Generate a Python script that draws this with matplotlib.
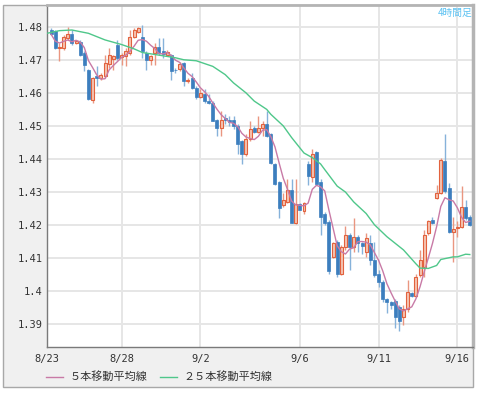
import numpy as np
import pandas as pd
import matplotlib
matplotlib.use('Agg')
import matplotlib.pyplot as plt
from matplotlib.patches import Rectangle
from matplotlib.lines import Line2D

# 4-hour candles, bar index 0..101
opens = [1.4790, 1.4787, 1.4735, 1.4735, 1.4765, 1.4777, 1.4752, 1.4755, 1.4720, 1.4670,
         1.4578, 1.4652, 1.4645, 1.4650, 1.4688, 1.4703, 1.4745, 1.4708, 1.4710, 1.4720,
         1.4770, 1.4785, 1.4770, 1.4720, 1.4700, 1.4720, 1.4740, 1.4725, 1.4715, 1.4715,
         1.4670, 1.4672, 1.4690, 1.4635, 1.4645, 1.4615, 1.4587, 1.4595, 1.4575, 1.4570,
         1.4517, 1.4495, 1.4525, 1.4517, 1.4517, 1.4500, 1.4455, 1.4415, 1.4460, 1.4493,
         1.4483, 1.4495, 1.4505, 1.4475, 1.4385, 1.4330, 1.4260, 1.4270, 1.4305, 1.4205,
         1.4265, 1.4243, 1.4385, 1.4345, 1.4420, 1.4330, 1.4235, 1.4210, 1.4104, 1.4150,
         1.4053, 1.4135, 1.4170, 1.4135, 1.4165, 1.4145, 1.4119, 1.4145, 1.4094, 1.4053,
         1.4028, 1.3977, 1.3967, 1.3972, 1.3952, 1.3921, 1.3947, 1.3996, 1.3987, 1.4048,
         1.4074, 1.4175, 1.4216, 1.4282, 1.4297, 1.4393, 1.4312, 1.4180, 1.4190, 1.4195,
         1.4254, 1.4226]
highs = [1.4795, 1.4790, 1.4750, 1.4775, 1.4800, 1.4790, 1.4760, 1.4760, 1.4725, 1.4672,
         1.4648, 1.4680, 1.4660, 1.4715, 1.4735, 1.4715, 1.4760, 1.4720, 1.4735, 1.4790,
         1.4795, 1.4800, 1.4805, 1.4725, 1.4715, 1.4750, 1.4765, 1.4765, 1.4730, 1.4718,
         1.4675, 1.4692, 1.4692, 1.4645, 1.4660, 1.4620, 1.4612, 1.4612, 1.4595, 1.4575,
         1.4520, 1.4545, 1.4535, 1.4530, 1.4530, 1.4505, 1.4457, 1.4475, 1.4515, 1.4500,
         1.4530, 1.4515, 1.4545, 1.4478, 1.4388, 1.4332, 1.4297, 1.4340, 1.4340, 1.4340,
         1.4268, 1.4270, 1.4395, 1.4430, 1.4425, 1.4340, 1.4240, 1.4215, 1.4150, 1.4155,
         1.4140, 1.4197, 1.4175, 1.4221, 1.4170, 1.4150, 1.4175, 1.4170, 1.4150, 1.4064,
         1.4033, 1.3980, 1.3972, 1.3977, 1.3957, 1.3957, 1.4033, 1.3999, 1.4051, 1.4124,
         1.4185, 1.4216, 1.4226, 1.4322, 1.4404, 1.4475, 1.4327, 1.4226, 1.4211, 1.4317,
         1.4277, 1.4231]
lows = [1.4775, 1.4733, 1.4695, 1.4730, 1.4760, 1.4745, 1.4748, 1.4710, 1.4665, 1.4578,
        1.4570, 1.4620, 1.4640, 1.4645, 1.4675, 1.4670, 1.4700, 1.4685, 1.4680, 1.4715,
        1.4765, 1.4780, 1.4705, 1.4670, 1.4685, 1.4685, 1.4715, 1.4705, 1.4710, 1.4640,
        1.4660, 1.4665, 1.4620, 1.4630, 1.4612, 1.4580, 1.4585, 1.4570, 1.4565, 1.4515,
        1.4470, 1.4470, 1.4505, 1.4500, 1.4490, 1.4415, 1.4385, 1.4410, 1.4455, 1.4480,
        1.4478, 1.4470, 1.4467, 1.4385, 1.4322, 1.4223, 1.4255, 1.4268, 1.4205, 1.4203,
        1.4245, 1.4235, 1.4320, 1.4330, 1.4320, 1.4170, 1.4200, 1.4053, 1.4100, 1.4043,
        1.4050, 1.4124, 1.4064, 1.4119, 1.4119, 1.4114, 1.4104, 1.4079, 1.4043, 1.4013,
        1.3967, 1.3934, 1.3947, 1.3889, 1.3879, 1.3899, 1.3937, 1.3984, 1.3984, 1.4043,
        1.4043, 1.4170, 1.4204, 1.4280, 1.4295, 1.4297, 1.4175, 1.4089, 1.4163, 1.4190,
        1.4216, 1.4196]
closes = [1.4777, 1.4735, 1.4740, 1.4770, 1.4777, 1.4750, 1.4757, 1.4715, 1.4685, 1.4580,
          1.4645, 1.4645, 1.4653, 1.4690, 1.4715, 1.4710, 1.4705, 1.4715, 1.4725, 1.4770,
          1.4790, 1.4795, 1.4725, 1.4700, 1.4710, 1.4740, 1.4720, 1.4718, 1.4722, 1.4665,
          1.4668, 1.4688, 1.4635, 1.4640, 1.4615, 1.4587, 1.4600, 1.4575, 1.4570, 1.4515,
          1.4493, 1.4517, 1.4517, 1.4512, 1.4500, 1.4445, 1.4415, 1.4460, 1.4490, 1.4483,
          1.4495, 1.4507, 1.4468, 1.4387, 1.4325, 1.4253, 1.4275, 1.4305, 1.4207, 1.4265,
          1.4247, 1.4267, 1.4347, 1.4415, 1.4325, 1.4225, 1.4205, 1.4060, 1.4145, 1.4053,
          1.4135, 1.4170, 1.4135, 1.4165, 1.4145, 1.4137, 1.4160, 1.4094, 1.4048, 1.4028,
          1.3977, 1.3967, 1.3957, 1.3921, 1.3911, 1.3947, 1.3998, 1.3987, 1.4043, 1.4094,
          1.4170, 1.4211, 1.4206, 1.4297, 1.4398, 1.4302, 1.4180, 1.4187, 1.4195, 1.4256,
          1.4221, 1.4201]

# 25-bar moving average
ma25_idx = [-1, 2, 5, 9, 11, 13, 17, 20, 22, 25, 27, 30, 32, 35, 39, 42, 44, 47, 49, 52,
            53, 56, 58, 61, 63, 65, 66, 69, 71, 73, 76, 78, 81, 83, 85, 88, 89, 91, 93, 94,
            97, 98, 100, 101]
ma25_val = [1.4780, 1.4788, 1.4790, 1.4780, 1.4770, 1.4760, 1.4746, 1.4733, 1.4722, 1.4716,
            1.4712, 1.4706, 1.4700, 1.4697, 1.4680, 1.4655, 1.4630, 1.4600, 1.4575, 1.4550,
            1.4535, 1.4500, 1.4465, 1.4418, 1.4404, 1.4385, 1.4368, 1.4318, 1.4300, 1.4270,
            1.4235, 1.4201, 1.4165, 1.4145, 1.4125, 1.4083, 1.4070, 1.4069, 1.4078, 1.4096,
            1.4104, 1.4104, 1.4112, 1.4111]

tick_pos = [-1, 17, 36, 60, 79, 98]
tick_labels = ['8/23', '8/28', '9/2', '9/6', '9/11', '9/16']
ytick_vals = [1.39, 1.40, 1.41, 1.42, 1.43, 1.44, 1.45, 1.46, 1.47, 1.48]
ytick_labels = ['1.39', '1.4', '1.41', '1.42', '1.43', '1.44', '1.45', '1.46', '1.47', '1.48']


def main():
    o = np.array(opens)
    h = np.array(highs)
    l = np.array(lows)
    c = np.array(closes)
    x = np.arange(len(c))
    ma5 = pd.Series(c).rolling(5, min_periods=1).mean()

    fig = plt.figure(figsize=(4.78, 3.93), dpi=100, facecolor='white')
    # grey outer frame
    fig.add_artist(Rectangle((3/478, 6/393), 470/478, 382/393, transform=fig.transFigure,
                             facecolor='#f0f0f0', edgecolor='#a8a8a8', lw=1, zorder=0))
    ax = fig.add_axes([47/478, 46/393, 425.7/478, 342/393])
    ax.set_facecolor('white')
    ax.set_zorder(1)

    up = c >= o
    down = ~up
    ax.vlines(x[down], l[down], h[down], color='#86b2da', lw=1, zorder=2)
    ax.vlines(x[up], l[up], h[up], color='#ea9680', lw=1, zorder=2)
    w = 0.72
    ax.bar(x[down], np.maximum(o[down] - c[down], 0.00012), bottom=c[down], width=w,
           color='#3c7ebe', edgecolor='#3c7ebe', lw=0.5, zorder=3)
    ax.bar(x[up], np.maximum(c[up] - o[up], 0.00012), bottom=o[up], width=w,
           color='#f6c4b2', edgecolor='#e2623e', lw=0.8, zorder=3)

    ax.plot(x, ma5, color='#c87aa6', lw=1, zorder=4)
    ax.plot(ma25_idx, ma25_val, color='#4fc78a', lw=1, zorder=4)

    ax.set_xlim(-1, 101.7)
    ax.set_ylim(1.38314, 1.48656)
    ax.set_xticks(tick_pos)
    ax.set_xticklabels(tick_labels)
    ax.set_yticks(ytick_vals)
    ax.set_yticklabels(ytick_labels)
    ax.tick_params(length=0, labelsize=7.5, colors='#333333', pad=3)
    for lab in ax.get_xticklabels() + ax.get_yticklabels():
        lab.set_family('DejaVu Sans Mono')
    ax.tick_params(axis='x', pad=5)
    ax.grid(True, color='#e6e6e6', lw=1.4, zorder=0)
    ax.set_axisbelow(True)

    ax.spines['left'].set_color('#7a7a7a')
    ax.spines['bottom'].set_color('#7a7a7a')
    ax.spines['left'].set_linewidth(1)
    ax.spines['bottom'].set_linewidth(1)
    ax.spines['top'].set_color('#b4b4b4')
    ax.spines['right'].set_color('#b4b4b4')
    ax.spines['top'].set_linewidth(2)
    ax.spines['right'].set_linewidth(2.5)

    fig.text(472/478, (393 - 12.5)/393, '4時間足', ha='right', va='center', fontsize=7,
             color='#5cc2f2', family=['Noto Sans CJK JP', 'DejaVu Sans'], zorder=5)

    # legend
    ly = (393 - 377)/393
    fig.add_artist(Line2D([46/478, 63/478], [ly, ly], color='#c87aa6', lw=1))
    fig.text(70/478, ly, '５本移動平均線', va='center', fontsize=8, color='#333333',
             family=['Noto Sans CJK JP', 'DejaVu Sans'])
    fig.add_artist(Line2D([160/478, 177/478], [ly, ly], color='#4fc78a', lw=1))
    fig.text(183/478, ly, '２５本移動平均線', va='center', fontsize=8, color='#333333',
             family=['Noto Sans CJK JP', 'DejaVu Sans'])

    fig.savefig('out.png', dpi=100, facecolor='white')


if __name__ == "__main__":
    main()
